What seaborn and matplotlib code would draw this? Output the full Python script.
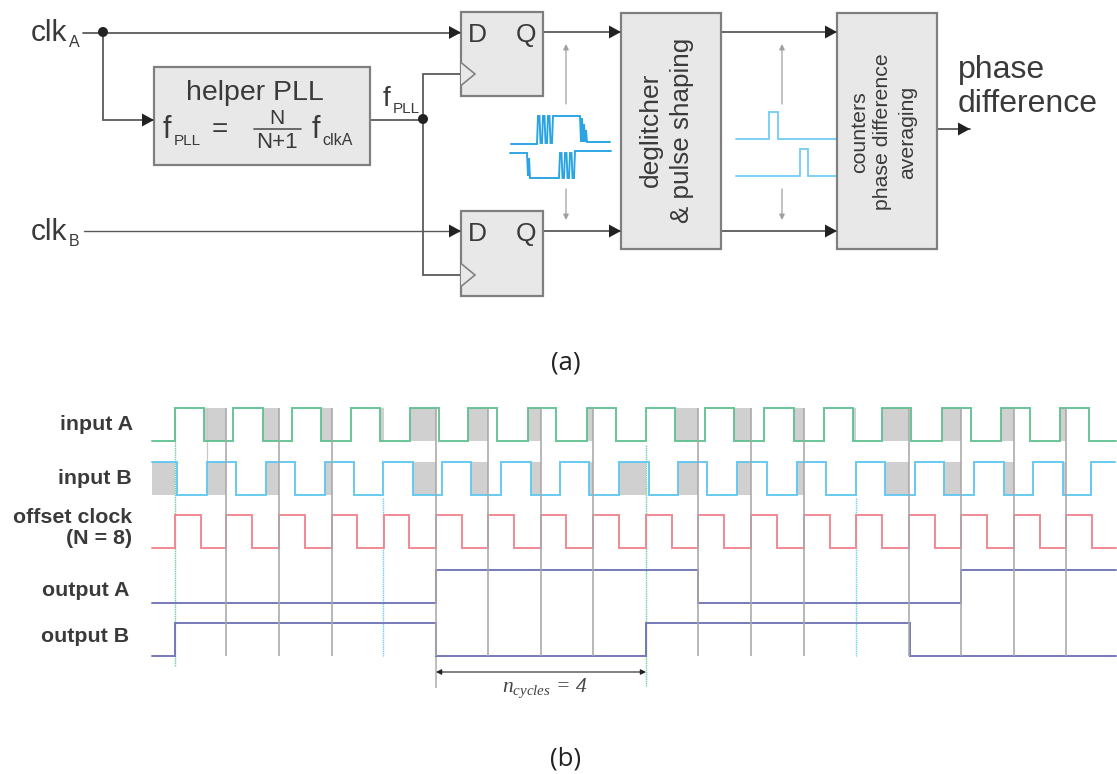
import numpy as np
import pandas as pd
import matplotlib
matplotlib.use("Agg")
import matplotlib.pyplot as plt
from matplotlib.patches import Rectangle, Polygon, Circle
import seaborn as sns

# ---- timing-diagram data (pixel-scale time axis) ----
input_a_edges = [175,204,233,263,292,321,351,380,410,439,468,497,528,556,587,616,646,675,705,734,764,794,824,853,882,911,942,971,1001,1030,1060,1089]
input_b_edges = [177,207,236,266,295,325,354,383,413,442,471,501,531,560,589,619,649,678,707,737,767,797,826,856,885,915,944,974,1004,1033,1063,1091]
offset_edges = [175,201,226,252,279,305,332,357,384,409,436,462,488,514,541,566,593,619,646,672,698,724,751,777,804,830,856,882,909,935,961,987,1014,1040,1066,1092]
output_a_edges = [436,698,961]
output_b_edges = [175,436,646,910]
trace_labels = ["input A","input B","offset clock\n(N = 8)","output A","output B"]
grid_times = [226,279,332,436,488,541,593,698,751,804,909,961,1014,1066]
shade_a = [(204,226),(263,279),(321,332),(380,384),(410,436),(468,488),(528,541),(587,593),(675,698),(734,751),(794,804),(853,856),(882,909),(942,961),(1001,1014),(1060,1066)]
shade_b = [(152,175),(207,226),(266,279),(325,332),(413,436),(471,488),(531,541),(589,593),(619,646),(678,698),(737,751),(797,804),(885,909),(944,961),(1004,1014),(1063,1066)]
jit_top_x = [511,537,538,539.5,540.5,542,543,544.5,545.5,547,548,549.5,550.5,552,553,580,581,582,583,584,585,586,587,610]
jit_top_y = [144,144,116,116,143,143,116,116,143,143,116,116,143,143,116,116,142,118,142,124,142,130,142,142]
jit_bot_x = [510,527,528,529,530,531,559,560,561.5,562.5,564,565,566.5,567.5,569,570,571.5,572.5,574,575,611]
jit_bot_y = [153,153,176,158,178,178,178,153,153,178,178,153,153,178,178,153,153,178,178,151,151]

sns.set_theme(style="white")
plt.rcParams["font.family"] = ["Liberation Sans", "DejaVu Sans"]
plt.rcParams["mathtext.fontset"] = "custom"
plt.rcParams["mathtext.it"] = "Liberation Serif:italic"
plt.rcParams["mathtext.rm"] = "Liberation Serif:italic"

fig = plt.figure(figsize=(11.17, 7.74), dpi=100)
ax = fig.add_axes([0, 0, 1, 1])
TXT = "#3a3a3a"; EDGE = "#7f7f7f"; FILL = "#e8e8e8"; LINE = "#5a5a5a"
PX = 0.72


def trace(xs, ys, color, lw=1.6, alpha=0.9, z=4, steps=True):
    d = pd.DataFrame({"x": xs, "y": ys})
    kw = {"drawstyle": "steps-post"} if steps else {}
    sns.lineplot(data=d, x="x", y="y", ax=ax, color=color, lw=lw*PX, alpha=alpha, estimator=None,
                 sort=False, legend=False, zorder=z, solid_joinstyle="miter", **kw)


def wave(edges, low, high, start_high, x0, x1, color, lw=2.0):
    levels = [high if start_high else low]
    for _ in edges:
        levels.append(low if levels[-1] == high else high)
    xs = [x0] + list(edges) + [x1]
    ys = levels + [levels[-1]]
    trace(xs, ys, color, lw=lw)


# shading
for a, b in shade_a:
    ax.add_patch(Rectangle((a, 408), b-a, 33, fc="#d0d0d0", ec="none", zorder=1))
for a, b in shade_b:
    ax.add_patch(Rectangle((a, 462), b-a, 33, fc="#d0d0d0", ec="none", zorder=1))
# grid lines
ax.vlines(grid_times, 408, 656, color="#a8a8a8", lw=1.6*PX, zorder=5)
ax.vlines([207], 408, 465, color="#c8c8c8", lw=1.2*PX, zorder=2)
ax.vlines([436], 656, 688, color="#b0b0b0", lw=1.6*PX, zorder=2)
ax.vlines([175], 445, 666, color="#6fcf9f", lw=1.4*PX, ls=(0, (1, 0.6)), zorder=3)
ax.vlines([175], 408, 445, color="#c8c8c8", lw=1.2*PX, zorder=2)
ax.vlines([646], 445, 686, color="#6fcf9f", lw=1.4*PX, ls=(0, (1, 0.6)), zorder=3)
ax.vlines([383, 856], 498, 656, color="#6ccff5", lw=1.4*PX, ls=(0, (1, 0.6)), zorder=3)

wave(input_a_edges, 441, 408, False, 152, 1116, "#5cc08e")
wave(input_b_edges, 495, 462, True, 152, 1115, "#5cc6f0")
wave(offset_edges, 548, 515, False, 152, 1116, "#f0818c")
wave(output_a_edges, 603, 570, False, 152, 1116, "#6a6fb5")
wave(output_b_edges, 656, 623, False, 152, 1116, "#6a6fb5")

for lab, rx, y in zip(trace_labels, [133, 132, 132, 129, 129], [425, 478, 528, 590, 637]):
    ax.text(rx, y, lab, ha="right", va="center", fontsize=15.4, fontweight="bold", color=TXT, linespacing=1.12, zorder=7)

# n_cycles
ax.annotate("", xy=(436, 672), xytext=(646, 672), arrowprops=dict(arrowstyle="<|-|>", color="#222222", lw=0.8, shrinkA=0, shrinkB=0, mutation_scale=8))
ax.text(502, 692, r"$n_{cycles}\,=\,4$", fontsize=15.5, color="#444444", ha="left", va="baseline")

# (a) (b)
ax.text(566, 363, "(a)", fontsize=18.5, family="Open Sans", ha="center", va="center", color="#222222")
ax.text(566, 759, "(b)", fontsize=18.5, family="Open Sans", ha="center", va="center", color="#222222")

# ---- block diagram ----
def box(x0, y0, x1, y1):
    ax.add_patch(Rectangle((x0, y0), x1-x0, y1-y0, fc=FILL, ec=EDGE, lw=2.2*PX, zorder=3))


def wire(xs, ys, arrow=False, color=LINE, lw=1.8):
    ax.plot(xs, ys, color=color, lw=lw*PX, zorder=2, solid_joinstyle="miter")
    if arrow:
        x, y = xs[-1], ys[-1]
        ax.add_patch(Polygon([(x, y), (x-12, y-6.5), (x-12, y+6.5)], fc="#222222", ec="none", zorder=5))


box(461, 12, 543, 96)
box(461, 211, 543, 296)
box(154, 67, 370, 165)
box(621, 13, 721, 249)
box(837, 13, 937, 249)

wire([83, 461], [32.5, 32.5], True)
wire([103, 103, 154], [32.5, 120, 120], True)
wire([370, 423], [119.5, 119.5])
wire([461, 423, 423, 461], [74, 74, 275, 275])
wire([84, 461], [231, 231], True, lw=1.4)
wire([543, 621], [32, 32], True)
wire([543, 621], [231, 231], True)
wire([721, 837], [32, 32], True)
wire([721, 837], [231, 231], True)
wire([937, 970], [129, 129], True)
for cx, cy in [(103, 32), (423, 119)]:
    ax.add_patch(Circle((cx, cy), 5, fc="#222222", ec="none", zorder=5))
for cy in [74, 275]:
    ax.add_patch(Polygon([(461, cy-11.5), (475, cy), (461, cy+11.5)], fc=FILL, ec=EDGE, lw=1.6*PX, zorder=5, closed=False))

# small grey arrows
for x in [566, 782]:
    ax.annotate("", xy=(x, 44), xytext=(x, 104), arrowprops=dict(arrowstyle="-|>", color="#a0a0a0", lw=0.9, shrinkA=0, shrinkB=0, mutation_scale=8))
    ax.annotate("", xy=(x, 220), xytext=(x, 189), arrowprops=dict(arrowstyle="-|>", color="#a0a0a0", lw=0.9, shrinkA=0, shrinkB=0, mutation_scale=8))

# noisy waves
trace(jit_top_x, jit_top_y, "#1f9fe2", lw=1.9, alpha=0.95, z=6, steps=False)
trace(jit_bot_x, jit_bot_y, "#1f9fe2", lw=1.9, alpha=0.95, z=6, steps=False)
# clean pulses
trace([736, 769, 769, 778, 778, 837], [139, 139, 112, 112, 139, 139], "#6fcdf5", lw=1.8, alpha=1, z=2, steps=False)
trace([736, 800, 800, 808, 808, 837], [176, 176, 148.5, 148.5, 176, 176], "#6fcdf5", lw=1.8, alpha=1, z=2, steps=False)

# block text
def T(x, y, s, fs, **k):
    k.setdefault("ha", "left"); k.setdefault("va", "baseline"); k.setdefault("color", TXT)
    ax.text(x, y, s, fontsize=fs, zorder=7, **k)

T(31, 41, "clk", 21.5); T(69, 47, "A", 11.5)
T(31, 240, "clk", 21.5); T(69, 246, "B", 11.5)
T(186, 100, "helper PLL", 20.5)
T(163, 138, "f", 22); T(174, 145, "PLL", 11)
T(212, 137, "=", 20)
T(277, 124, "N", 15, ha="center")
ax.plot([254, 301], [128.5, 128.5], color="#555555", lw=1.2, zorder=7)
T(277, 148, "N+1", 16, ha="center")
T(312, 138, "f", 22); T(322, 145, "clkA", 11.5)
T(383, 106, "f", 20); T(393, 113, "PLL", 11)
T(468, 42, "D", 19); T(516, 42, "Q", 19)
T(468, 241, "D", 19); T(516, 241, "Q", 19)
T(651, 130, "deglitcher", 19, rotation=90, ha="center", va="center")
T(682, 130, "& pulse shaping", 18.7, rotation=90, ha="center", va="center")
T(860, 132, "counters", 15.3, rotation=90, ha="center", va="center")
T(883, 132, "phase difference", 15.3, rotation=90, ha="center", va="center")
T(908, 132, "averaging", 15.3, rotation=90, ha="center", va="center")
T(958, 78, "phase", 23)
T(958, 112, "difference", 23)

ax.set_xlim(0, 1117)
ax.set_ylim(774, 0)
ax.set_xlabel(""); ax.set_ylabel("")
ax.axis("off")
fig.savefig("out.png", dpi=100)
